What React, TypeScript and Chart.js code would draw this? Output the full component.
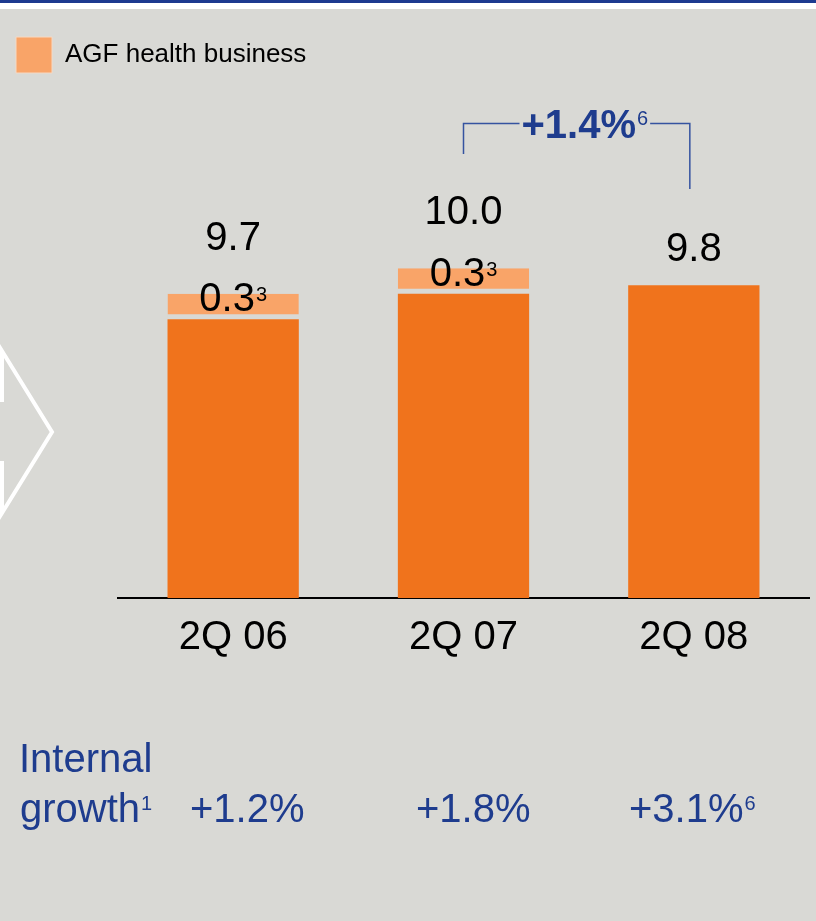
import React, { useEffect, useRef } from "react";
import { Chart, registerables } from "chart.js";

Chart.register(...registerables);

const categories = ["2Q 06", "2Q 07", "2Q 08"];
const coreValues = [9.4, 9.7, 9.8];
const agfValues = [0.3, 0.3, 0];
const agfFootnotes = ["3", "3", ""];
const growthValues = ["+1.2%", "+1.8%", "+3.1%"];
const growthFootnotes = ["", "", "6"];
const changeLabel = "+1.4%";
const changeFootnote = "6";
const legendLabel = "AGF health business";
const growthTitle = ["Internal", "growth"];
const growthTitleFootnote = "1";

const FONT = '"Liberation Sans", Arial, Helvetica, sans-serif';
const BG = "#d9d9d5";
const DARK = "#f0731c";
const LIGHT = "#f9a468";
const BLUE = "#1e3c8e";
const LINE_BLUE = "#3553a0";

function drawWithSup(
  ctx: CanvasRenderingContext2D,
  main: string,
  sup: string,
  x: number,
  baseline: number,
  mainFont: string,
  supFont: string,
  align: "center" | "left",
  supRaise: number
) {
  ctx.font = mainFont;
  const wMain = ctx.measureText(main).width;
  ctx.font = supFont;
  const wSup = sup ? ctx.measureText(sup).width + 1 : 0;
  const start = align === "center" ? x - (wMain + wSup) / 2 : x;
  ctx.textAlign = "left";
  ctx.textBaseline = "alphabetic";
  ctx.font = mainFont;
  ctx.fillText(main, start, baseline);
  if (sup) {
    ctx.font = supFont;
    ctx.fillText(sup, start + wMain + 1, baseline - supRaise);
  }
  return start + wMain + wSup;
}

const overlay = {
  id: "overlay",
  beforeDraw(chart: any) {
    const ctx: CanvasRenderingContext2D = chart.ctx;
    ctx.save();
    ctx.fillStyle = BG;
    ctx.fillRect(0, 0, chart.width, chart.height);
    ctx.fillStyle = "#1d3a8f";
    ctx.fillRect(0, 0, chart.width, 3);
    ctx.fillStyle = "#ffffff";
    ctx.fillRect(0, 3, chart.width, 6);
    // decorative white outline arrow on the left edge
    ctx.strokeStyle = "#ffffff";
    ctx.lineWidth = 4;
    ctx.lineJoin = "miter";
    ctx.beginPath();
    ctx.moveTo(-10, 400);
    ctx.lineTo(2, 400);
    ctx.lineTo(2, 351);
    ctx.lineTo(52, 432);
    ctx.lineTo(2, 513);
    ctx.lineTo(2, 463);
    ctx.lineTo(-10, 463);
    ctx.stroke();
    ctx.restore();
  },
  afterDraw(chart: any) {
    const ctx: CanvasRenderingContext2D = chart.ctx;
    const xs = chart.scales.x;
    const ys = chart.scales.y;
    const big = `40px ${FONT}`;
    const small = `20px ${FONT}`;
    ctx.save();
    ctx.fillStyle = "#000000";
    categories.forEach((_, i) => {
      const cx = xs.getPixelForValue(i);
      const total = coreValues[i] + agfValues[i];
      const top = ys.getPixelForValue(total);
      const hasAgf = agfValues[i] > 0;
      ctx.fillStyle = "#000000";
      drawWithSup(ctx, total.toFixed(1), "", cx, hasAgf ? top - 44 : top - 24, big, small, "center", 0);
      if (hasAgf) {
        drawWithSup(ctx, agfValues[i].toFixed(1), agfFootnotes[i], cx, top + 17.5, big, small, "center", 10);
      }
    });

    // bracket with change
    const lx = xs.getPixelForValue(1);
    const rx = xs.getPixelForValue(2) - 4;
    const by = 123.5;
    ctx.strokeStyle = LINE_BLUE;
    ctx.lineWidth = 1.5;
    ctx.font = `bold 40px ${FONT}`;
    const tStart = lx + 58;
    ctx.fillStyle = BLUE;
    const tEnd = drawWithSup(ctx, changeLabel, changeFootnote, tStart, 137.5, `bold 40px ${FONT}`, small, "left", 12.5);
    ctx.beginPath();
    ctx.moveTo(lx, 154);
    ctx.lineTo(lx, by);
    ctx.lineTo(tStart - 2, by);
    ctx.moveTo(tEnd + 2, by);
    ctx.lineTo(rx, by);
    ctx.lineTo(rx, 189);
    ctx.stroke();

    // internal growth row
    ctx.fillStyle = BLUE;
    ctx.font = big;
    ctx.textAlign = "left";
    ctx.textBaseline = "alphabetic";
    ctx.fillText(growthTitle[0], 19, 772);
    drawWithSup(ctx, growthTitle[1], growthTitleFootnote, 20, 822, big, small, "left", 12);
    const gx = [190, 416, 629];
    growthValues.forEach((g, i) => {
      drawWithSup(ctx, g, growthFootnotes[i], gx[i], 822, big, small, "left", 12);
    });
    ctx.restore();
  },
};

export default function App() {
  const ref = useRef<HTMLCanvasElement | null>(null);
  useEffect(() => {
    if (!ref.current) return;
    const chart = new Chart(ref.current, {
      type: "bar",
      data: {
        labels: categories,
        datasets: [
          {
            label: "Core",
            data: coreValues,
            backgroundColor: DARK,
            borderWidth: 0,
            categoryPercentage: 1,
            barPercentage: 0.57,
          },
          {
            label: legendLabel,
            data: agfValues,
            backgroundColor: LIGHT,
            borderColor: BG,
            borderWidth: { top: 0, left: 0, right: 0, bottom: 5 },
            borderSkipped: false,
            categoryPercentage: 1,
            barPercentage: 0.57,
          },
        ],
      },
      options: {
        responsive: false,
        animation: false,
        devicePixelRatio: 1,
        layout: { padding: { left: 6, top: 27, right: 7, bottom: 223 } },
        plugins: {
          tooltip: { enabled: false },
          legend: {
            display: true,
            position: "top",
            align: "start",
            labels: {
              boxWidth: 36,
              boxHeight: 36,
              padding: 10,
              color: "#000000",
              font: { family: FONT, size: 26 },
              filter: (item: any) => item.datasetIndex === 1,
              generateLabels: (c: any) =>
                (Chart.defaults.plugins.legend.labels as any)
                  .generateLabels(c)
                  .map((it: any) => ({ ...it, lineWidth: 1, strokeStyle: "#f6d9c3" })),
            },
          },
        },
        scales: {
          x: {
            stacked: true,
            grid: { display: false, drawTicks: false },
            border: { display: true, color: "#000000", width: 2 },
            ticks: { color: "#000000", font: { family: FONT, size: 40 }, padding: 16 },
            afterFit: (s: any) => {
              s.height = 100;
            },
          },
          y: {
            stacked: true,
            min: 6.12,
            max: 12.18,
            display: true,
            grid: { display: false, drawTicks: false },
            border: { display: false },
            ticks: { display: false },
            afterFit: (s: any) => {
              s.width = 112;
            },
          },
        },
      },
      plugins: [overlay],
    } as any);
    return () => chart.destroy();
  }, []);
  return (
    <div style={{ position: "absolute", left: 0, top: 0, width: 816, height: 921 }}>
      <canvas ref={ref} width={816} height={921} style={{ display: "block" }} />
    </div>
  );
}
